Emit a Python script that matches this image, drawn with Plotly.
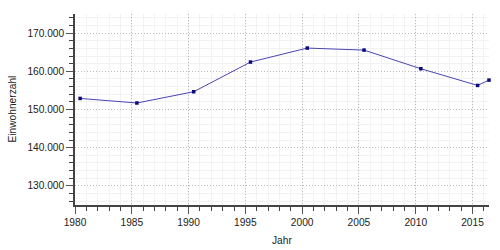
import plotly.graph_objects as go

years = [1980.45, 1985.45, 1990.45, 1995.45, 2000.45, 2005.45, 2010.45, 2015.45, 2016.45]
population = [152900, 151700, 154650, 162420, 166080, 165550, 160670, 156300, 157700]
x_tick_values = [1980, 1985, 1990, 1995, 2000, 2005, 2010, 2015]
x_tick_labels = [str(v) for v in x_tick_values]
x_title = "Jahr"
y_title = "Einwohnerzahl"

fig = go.Figure()
fig.add_trace(go.Scatter(
    x=years, y=population, mode="lines+markers",
    line=dict(color="#4a46b0", width=1),
    marker=dict(color="#0a0a80", size=3.5, symbol="square"),
    cliponaxis=False,
))

font = dict(family="Liberation Sans, Arial, sans-serif", size=10.2, color="#222")
fig.update_layout(
    width=500, height=250,
    margin=dict(l=75, r=11, t=14, b=45),
    paper_bgcolor="white", plot_bgcolor="white",
    separators=",.",
    font=font,
    showlegend=False,
    xaxis=dict(
        range=[1980, 2016.45], automargin=False,
        tickmode="array", tickvals=x_tick_values, ticktext=x_tick_labels,
        ticks="outside", ticklen=7, tickcolor="#555", tickwidth=1,
        showline=True, linecolor="#444", linewidth=1.5,
        showgrid=True, gridcolor="#bbbbbb", griddash="1px,2px", gridwidth=1,
        minor=dict(dtick=1, tick0=1980, ticks="outside", ticklen=4, tickcolor="#444",
                   showgrid=True, gridcolor="#f2f2f2", griddash="solid", gridwidth=1),
        zeroline=False,
    ),
    yaxis=dict(
        range=[125000, 175000], automargin=False,
        dtick=10000, tick0=130000, tickformat=",.0f",
        ticks="outside", ticklen=7, tickcolor="#555", tickwidth=1,
        showline=True, linecolor="#444", linewidth=1.5,
        showgrid=True, gridcolor="#bbbbbb", griddash="1px,2px", gridwidth=1,
        minor=dict(dtick=2000, ticks="outside", ticklen=4, tickcolor="#444",
                   showgrid=True, gridcolor="#f2f2f2", griddash="solid", gridwidth=1),
        zeroline=False,
    ),
    annotations=[
        dict(text=x_title, xref="paper", yref="paper", x=0.5, y=0,
             xanchor="center", yanchor="middle", yshift=-35, showarrow=False,
             font=dict(size=10.2)),
        dict(text=y_title, xref="paper", yref="paper", x=0, y=0.5,
             xanchor="center", yanchor="middle", xshift=-63, textangle=-90,
             showarrow=False, font=dict(size=10.2)),
    ],
)

fig.write_html("out.html")
